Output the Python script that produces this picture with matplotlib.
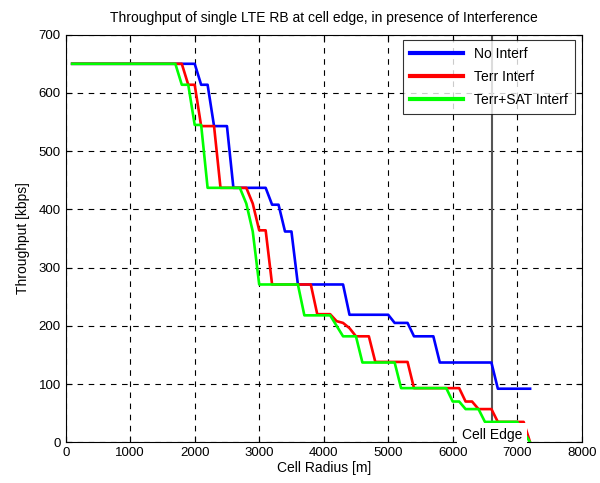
import matplotlib
matplotlib.use("Agg")
import matplotlib.pyplot as plt

plt.rcParams['font.family'] = ['Liberation Sans', 'DejaVu Sans']

title = "Throughput of single LTE RB at cell edge, in presence of Interference"
xlabel = "Cell Radius [m]"
ylabel = "Throughput [kbps]"

blue_label = "No Interf"
blue_x = [100, 2000, 2100, 2200, 2300, 2500, 2600, 3100, 3200, 3300, 3400, 3500,
          3600, 4300, 4400, 5000, 5100, 5300, 5400, 5700, 5800, 6600, 6700, 7200]
blue_y = [650, 650, 614, 614, 543, 543, 437, 437, 408, 408, 362, 362,
          271, 271, 219, 219, 205, 205, 182, 182, 137, 137, 92, 92]

red_label = "Terr Interf"
red_x = [100, 1800, 1900, 2000, 2100, 2300, 2400, 2800, 2900, 3000, 3100, 3200,
         3800, 3900, 4100, 4200, 4300, 4400, 4500, 4700, 4800, 5300, 5400, 6100,
         6200, 6300, 6400, 6600, 6700, 7100, 7200]
red_y = [650, 650, 614, 614, 543, 543, 437, 437, 410, 364, 364, 271,
         271, 220, 220, 208, 205, 196, 182, 182, 138, 138, 93, 93,
         70, 70, 57, 57, 35, 35, 0]

green_label = "Terr+SAT Interf"
green_x = [100, 1700, 1800, 1900, 2000, 2100, 2200, 2700, 2800, 2900, 3000, 3600,
           3700, 4100, 4200, 4300, 4500, 4600, 5100, 5200, 5900, 6000, 6100, 6200,
           6400, 6500, 7000, 7200]
green_y = [650, 650, 614, 614, 545, 545, 437, 437, 410, 362, 271, 271,
           218, 218, 200, 182, 182, 137, 137, 93, 93, 70, 70, 57,
           57, 35, 35, 0]

cell_edge_x = 6610
cell_edge_text = "Cell Edge"

xticks = [0, 1000, 2000, 3000, 4000, 5000, 6000, 7000, 8000]
yticks = [0, 100, 200, 300, 400, 500, 600, 700]

fig = plt.figure(figsize=(6.0, 4.83), dpi=100)
ax = fig.add_axes([0.1095, 0.0843, 0.86, 0.8439])

ax.plot(blue_x, blue_y, color=(0, 0, 1), lw=1.9, label=blue_label, zorder=3)
ax.plot(red_x, red_y, color=(1, 0, 0), lw=1.9, label=red_label, zorder=3)
ax.plot(green_x, green_y, color=(0, 1, 0), lw=1.9, label=green_label, zorder=3)

ax.axvline(cell_edge_x, color='#555555', lw=1.5, zorder=2)
ax.text(cell_edge_x, 13, cell_edge_text, ha='center', va='center', fontsize=10,
        zorder=5, bbox=dict(facecolor='white', edgecolor='none', pad=3.2))

ax.set_xlim(0, 8000)
ax.set_ylim(0, 700)
ax.set_xticks(xticks)
ax.set_yticks(yticks)
ax.tick_params(direction='in', top=True, right=True, labelsize=9.5, length=4)
ax.grid(True, color='black', linestyle=(0, (5, 5)), linewidth=0.8)
ax.set_axisbelow(True)

ax.set_title(title, fontsize=10, pad=9)
ax.set_xlabel(xlabel, fontsize=10, labelpad=1)
ax.set_ylabel(ylabel, fontsize=10, labelpad=6)

leg = ax.legend(loc='upper right', fontsize=10, frameon=True, fancybox=False,
                edgecolor='black', handlelength=3.8, borderpad=0.5,
                labelspacing=0.65, borderaxespad=0,
                bbox_to_anchor=(0.987, 0.987))
leg.get_frame().set_linewidth(0.8)
for line in leg.get_lines():
    line.set_linewidth(3)

fig.savefig("out.png", dpi=100)
